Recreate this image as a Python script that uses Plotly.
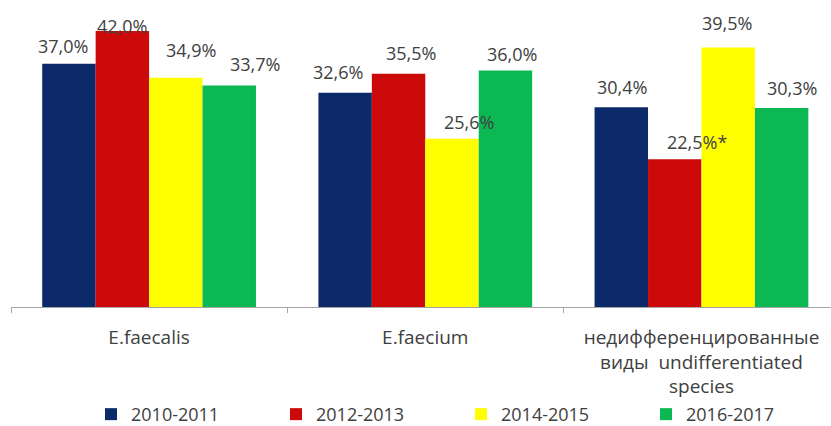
import plotly.graph_objects as go

# Enterococcus species share by period
categories = ["E.faecalis", "E.faecium",
              "недифференцированные<br>виды  undifferentiated<br>species"]
periods = ["2010-2011", "2012-2013", "2014-2015", "2016-2017"]
share_2010_2011 = [37.0, 32.6, 30.4]
share_2012_2013 = [42.0, 35.5, 22.5]
share_2014_2015 = [34.9, 25.6, 39.5]
share_2016_2017 = [33.7, 36.0, 30.3]
series = [share_2010_2011, share_2012_2013, share_2014_2015, share_2016_2017]
# footnote marks appended to individual labels (series index, category index)
footnotes = {(1, 2): "*"}

colors = ["#0C2A69", "#CC0A0A", "#FFFF00", "#0CB853"]
text_color = "#404040"
font_family = "Open Sans, Arial, sans-serif"

bargap = 0.226
n_series = len(series)
bar_w = (1 - bargap) / n_series

# label placement tweaks in pixels (per series, per category)
label_dx = [[-6, -7, 1], [0, 12, 22], [15, 17, -1], [26, 7, 10]]
label_dy = [[18, 21, 20], [5, 21, 17], [28, 17, 24], [22, 16, 20]]

fig = go.Figure()
for si, (name, vals) in enumerate(zip(periods, series)):
    fig.add_trace(go.Bar(
        name=name, x=categories, y=vals,
        marker=dict(color=colors[si], line=dict(width=0)),
        hoverinfo="skip",
    ))

annotations = []
for si, vals in enumerate(series):
    for ci, v in enumerate(vals):
        txt = f"{v:.1f}".replace(".", ",") + "%" + footnotes.get((si, ci), "")
        annotations.append(dict(
            x=ci + (si - (n_series - 1) / 2) * bar_w, y=v,
            xref="x", yref="y", text=txt, showarrow=False,
            xanchor="center", yanchor="middle",
            xshift=label_dx[si][ci], yshift=label_dy[si][ci],
            font=dict(family=font_family, size=18, color=text_color),
        ))

fig.update_layout(
    width=831, height=426,
    margin=dict(l=11, r=0, t=0, b=119, autoexpand=False),
    paper_bgcolor="white", plot_bgcolor="white",
    barmode="group", bargap=bargap, bargroupgap=0,
    font=dict(family=font_family, size=18, color=text_color),
    annotations=annotations,
    showlegend=True,
    legend=dict(
        orientation="h", xref="container", yref="paper",
        x=91 / 831, xanchor="left", y=-0.35, yanchor="middle",
        entrywidth=140, entrywidthmode="pixels",
        bgcolor="rgba(0,0,0,0)",
        font=dict(family=font_family, size=18, color=text_color),
        itemclick=False, itemdoubleclick=False,
    ),
    xaxis=dict(
        type="category", range=[-0.5, 2.469],
        showline=True, linecolor="#A6A6A6", linewidth=1,
        ticks="outside", tickson="boundaries", ticklen=5, tickcolor="#A6A6A6",
        ticklabelstandoff=13, showgrid=False, zeroline=False,
        tickfont=dict(family=font_family, size=19, color=text_color),
    ),
    yaxis=dict(
        range=[0, 46.72], visible=False, showgrid=False, zeroline=False,
    ),
)

fig.write_html("out.html")
